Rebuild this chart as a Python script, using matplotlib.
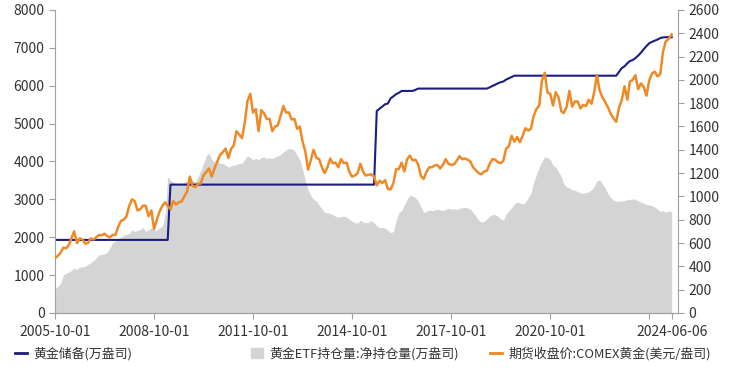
import matplotlib
matplotlib.use("Agg")
import matplotlib.pyplot as plt
from matplotlib.lines import Line2D
from matplotlib.patches import Patch
import pandas as pd

plt.rcParams['font.family'] = ['Noto Sans CJK SC', 'DejaVu Sans']

# 月度数据 2005-10 ~ 2024-06
dates = pd.date_range('2005-10-01', '2024-06-01', freq='MS')
dates = dates[:-1].append(pd.DatetimeIndex(['2024-06-06']))

# 黄金储备(万盎司)
reserve = ([1929] * 42 + [3389] * 75 +
           [5332, 5393, 5450, 5509, 5531, 5666] +
           [5719, 5779, 5812, 5861, 5862, 5862, 5862, 5862, 5890, 5924, 5924, 5924] +
           [5924] * 12 +
           [5924] * 11 + [5956] +
           [5994, 6026, 6062, 6092, 6111, 6161, 6194, 6226, 6264, 6264, 6264, 6264] +
           [6264] * 24 +
           [6264] * 10 + [6367, 6464] +
           [6512, 6592, 6650, 6676, 6727, 6795, 6869, 6962, 7046, 7120, 7158, 7187] +
           [7219, 7258, 7274, 7280, 7280, 7280])

# 黄金ETF持仓量:净持仓量(万盎司)
etf = [650, 700, 780,
       1000, 1050, 1080, 1120, 1180, 1150, 1210, 1220, 1230, 1280, 1330, 1380,
       1450, 1530, 1550, 1560, 1600, 1720, 1850, 1900, 1960, 2000, 2050, 2080,
       2100, 2200, 2150, 2180, 2200, 2260, 2150, 2200, 2250, 2200, 2180, 2250,
       2300, 2600, 3600, 3500, 3450, 3420, 3400, 3420, 3450, 3480, 3550, 3500,
       3450, 3600, 3750, 3950, 4150, 4220, 4050, 3980, 4000, 3950, 3950, 3900,
       3850, 3880, 3900, 3920, 3950, 3950, 4050, 4150, 4100, 4050, 4080, 4050,
       4100, 4120, 4080, 4100, 4080, 4120, 4150, 4180, 4250, 4300, 4350, 4330,
       4300, 4150, 4050, 3800, 3500, 3250, 3100, 3000, 2950, 2850, 2750, 2650,
       2650, 2620, 2600, 2550, 2530, 2540, 2560, 2530, 2480, 2420, 2380, 2370,
       2450, 2400, 2380, 2400, 2440, 2380, 2300, 2250, 2260, 2240, 2180, 2120,
       2150, 2450, 2650, 2700, 2850, 3000, 3110, 3080, 3050, 2950, 2800, 2650,
       2680, 2720, 2700, 2720, 2740, 2720, 2700, 2740, 2760, 2740, 2750, 2730,
       2760, 2780, 2790, 2770, 2740, 2650, 2560, 2450, 2400, 2420, 2480, 2560,
       2600, 2590, 2560, 2480, 2450, 2600, 2700, 2780, 2880, 2930, 2900, 2880,
       2920, 3050, 3150, 3450, 3650, 3850, 4000, 4120, 4100, 4050, 3900, 3850,
       3720, 3600, 3400, 3330, 3300, 3250, 3240, 3200, 3170, 3160, 3180, 3200,
       3250, 3350, 3480, 3510, 3400, 3300, 3150, 3050, 2980, 2950, 2950, 2960,
       2970, 2990, 3000, 3010, 3000, 2960, 2930, 2900, 2860, 2850, 2830, 2800,
       2740, 2680, 2700, 2660, 2690, 2680]

# 期货收盘价:COMEX黄金(美元/盎司)
gold = [470, 490, 515,
        560, 555, 580, 640, 700, 600, 640, 630, 595, 600, 640, 630,
        650, 670, 665, 680, 660, 650, 670, 670, 740, 790, 800, 830,
        920, 975, 960, 880, 890, 920, 920, 830, 880, 720, 800, 870,
        920, 950, 920, 890, 960, 930, 950, 955, 1000, 1040, 1170, 1090,
        1080, 1110, 1110, 1180, 1210, 1240, 1170, 1240, 1300, 1355, 1380, 1410,
        1330, 1410, 1435, 1560, 1530, 1500, 1630, 1820, 1880, 1720, 1750, 1560,
        1740, 1710, 1665, 1665, 1560, 1600, 1610, 1690, 1775, 1720, 1720, 1660,
        1665, 1580, 1600, 1470, 1390, 1230, 1310, 1400, 1330, 1320, 1250, 1200,
        1250, 1325, 1285, 1290, 1250, 1320, 1285, 1290, 1210, 1170, 1180, 1200,
        1280, 1210, 1180, 1185, 1190, 1170, 1095, 1135, 1115, 1140, 1065, 1060,
        1115, 1235, 1235, 1290, 1215, 1320, 1350, 1310, 1315, 1275, 1175, 1150,
        1210, 1250, 1250, 1265, 1270, 1240, 1270, 1320, 1280, 1270, 1275, 1305,
        1345, 1320, 1325, 1315, 1300, 1250, 1225, 1200, 1190, 1215, 1220, 1280,
        1320, 1315, 1295, 1285, 1305, 1410, 1430, 1520, 1470, 1510, 1465, 1520,
        1585, 1565, 1580, 1690, 1750, 1780, 1990, 2060, 1890, 1880, 1780, 1895,
        1850, 1730, 1715, 1770, 1905, 1770, 1815, 1815, 1755, 1785, 1775, 1830,
        1795, 1900, 2040, 1910, 1850, 1810, 1765, 1710, 1670, 1640, 1760, 1825,
        1945, 1830, 1985, 2000, 2040, 1920, 1970, 1940, 1865, 1995, 2055, 2070,
        2030, 2050, 2240, 2330, 2350, 2390]

tick_dates = ['2005-10-01', '2008-10-01', '2011-10-01', '2014-10-01',
              '2017-10-01', '2020-10-01', '2023-10-01', '2024-06-06']
tick_labels = ['2005-10-01', '2008-10-01', '2011-10-01', '2014-10-01',
               '2017-10-01', '2020-10-01', '', '2024-06-06']

c_blue = '#1c1c85'
c_gray = '#d4d4d4'
c_orange = '#ee8a26'
c_axis = '#a0a0a0'
c_text = '#333333'

fig = plt.figure(figsize=(7.33, 3.68), dpi=100)
ax = fig.add_axes([0.075, 0.1495, 0.85, 0.8235])
ax2 = ax.twinx()

ax.fill_between(dates, etf, 0, color=c_gray, lw=0)
ax.plot(dates, reserve, color=c_blue, lw=1.5)
ax2.plot(dates, gold, color=c_orange, lw=1.8)

ax.set_ylim(0, 8000)
ax.set_yticks(range(0, 8001, 1000))
ax2.set_ylim(0, 2600)
ax2.set_yticks(range(0, 2601, 200))
ax.set_xlim(pd.Timestamp('2005-10-01'), pd.Timestamp('2024-08-15'))
ax.set_xticks(pd.to_datetime(tick_dates))
ax.set_xticklabels(tick_labels)

for a in (ax, ax2):
    a.spines['top'].set_visible(False)
    for s in ('left', 'right', 'bottom'):
        a.spines[s].set_color(c_axis)
    a.tick_params(colors=c_axis, labelcolor=c_text, labelsize=10, length=4)
ax.tick_params(axis='x', pad=5)
ax2.spines['left'].set_visible(False)
ax.spines['right'].set_visible(False)

# 图例分三处放置
y_leg = 1 - 354 / 368
leg_kw = dict(loc='center left', frameon=False, handlelength=0.9, handletextpad=0.5,
              borderpad=0, borderaxespad=0, fontsize=9.3, labelcolor=c_text)
fig.legend(handles=[Line2D([], [], color=c_blue, lw=2)], labels=['黄金储备(万盎司)'],
           bbox_to_anchor=(15 / 733, y_leg), **leg_kw)
fig.legend(handles=[Patch(color=c_gray)], labels=['黄金ETF持仓量:净持仓量(万盎司)'],
           bbox_to_anchor=(251 / 733, y_leg), handleheight=0.8, **leg_kw)
fig.legend(handles=[Line2D([], [], color=c_orange, lw=2)], labels=['期货收盘价:COMEX黄金(美元/盎司)'],
           bbox_to_anchor=(490 / 733, y_leg), **leg_kw)

fig.savefig('out.png', dpi=100)
